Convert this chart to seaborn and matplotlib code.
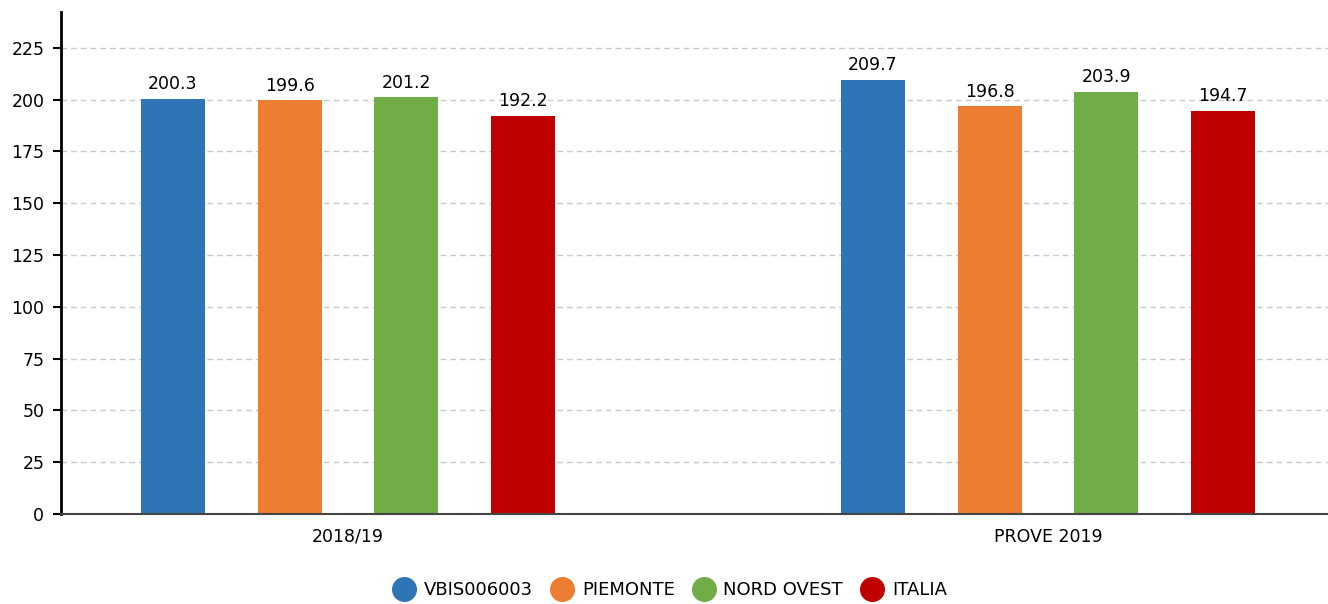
import matplotlib
matplotlib.use("Agg")
import matplotlib.pyplot as plt
from matplotlib.lines import Line2D
import seaborn as sns
import pandas as pd

categories = ["2018/19", "PROVE 2019"]
series = ["VBIS006003", "PIEMONTE", "NORD OVEST", "ITALIA"]
values_2018 = [200.3, 199.6, 201.2, 192.2]
values_2019 = [209.7, 196.8, 203.9, 194.7]
colors = ["#2e75b6", "#ed7d31", "#70ad47", "#c00000"]
yticks = [0, 25, 50, 75, 100, 125, 150, 175, 200, 225]

rows = []
for s, v1, v2 in zip(series, values_2018, values_2019):
    rows.append({"cat": categories[0], "series": s, "value": v1})
    rows.append({"cat": categories[1], "series": s, "value": v2})
df = pd.DataFrame(rows)

sns.set_style("white")
plt.rcParams["font.family"] = ["DejaVu Sans"]
plt.rcParams["text.color"] = "black"
plt.rcParams["xtick.color"] = "black"
plt.rcParams["ytick.color"] = "black"

fig = plt.figure(figsize=(13.28, 6.04), dpi=100)
ax = fig.add_axes([61 / 1328, 90 / 604, 1 - 61 / 1328, (514 - 12) / 604])

sns.barplot(data=df, x="cat", y="value", hue="series", order=categories,
            hue_order=series, palette=colors, width=0.667, gap=0.45,
            saturation=1, ax=ax, legend=False, errorbar=None, linewidth=0)

for cont in ax.containers:
    ax.bar_label(cont, fmt="%.1f", padding=4, fontsize=12.5, color="black")

ax.set_ylim(0, 242.3)
ax.set_xlim(-0.41, 1.4)
ax.set_yticks(yticks)
ax.set_yticklabels([str(t) for t in yticks])
ax.set_xlabel("")
ax.set_ylabel("")
ax.yaxis.grid(True, linestyle=(0, (4, 3)), color="#c8c8c8", linewidth=1)
ax.set_axisbelow(True)
ax.tick_params(axis="y", which="both", left=True, length=6, width=1.5,
               color="black", labelcolor="black", labelsize=12.5, pad=6)
ax.tick_params(axis="x", length=0, labelsize=12.5, labelcolor="black", pad=10)
for side in ["top", "right"]:
    ax.spines[side].set_visible(False)
ax.spines["left"].set_color("black")
ax.spines["left"].set_linewidth(2)
ax.spines["bottom"].set_color("#444444")
ax.spines["bottom"].set_linewidth(1.5)

handles = [Line2D([0], [0], marker="o", linestyle="", markersize=17,
                  markerfacecolor=c, markeredgecolor=c) for c in colors]
leg = fig.legend(handles, series, loc="center", bbox_to_anchor=(670 / 1328, 1 - 590 / 604),
                 ncol=4, frameon=False, fontsize=13, handletextpad=0.5,
                 columnspacing=1.0, handlelength=1.2)
for t in leg.get_texts():
    t.set_color("black")

fig.savefig("out.png", dpi=100)
